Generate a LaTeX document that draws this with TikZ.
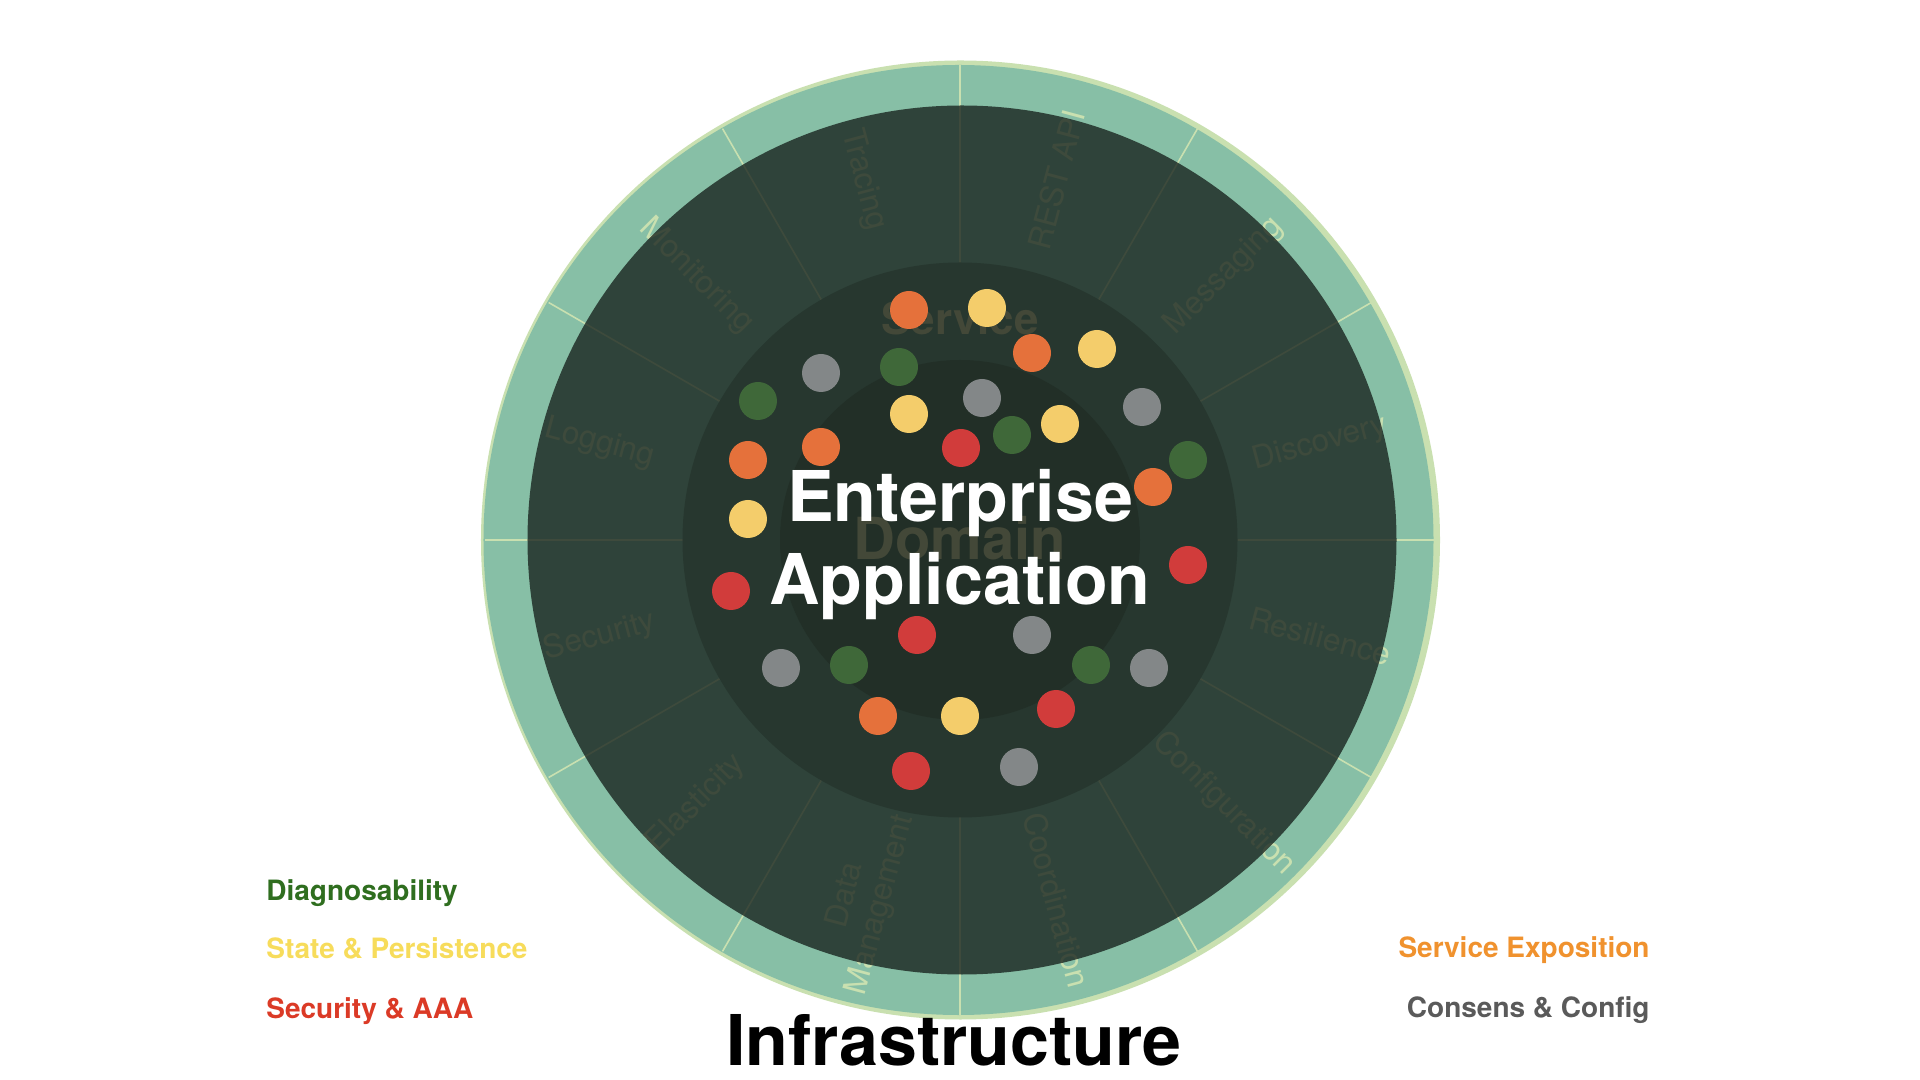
\documentclass[tikz,border=0pt]{standalone}
\usepackage{fontspec}
\setmainfont{TeX Gyre Heros}

\definecolor{pale}{HTML}{C9E0B0}
\definecolor{band}{HTML}{87BFA6}
\definecolor{veil}{HTML}{17211C}
\definecolor{servicering}{HTML}{27372F}
\definecolor{domainring}{HTML}{222F27}
\definecolor{faint}{HTML}{434838}
\definecolor{dotorange}{HTML}{E5713B}
\definecolor{dotyellow}{HTML}{F4CD6B}
\definecolor{dotgreen}{HTML}{3F6839}
\definecolor{dotgray}{HTML}{838788}
\definecolor{dotred}{HTML}{D13C3B}
\definecolor{diagcol}{HTML}{2F6E1F}
\definecolor{statecol}{HTML}{F7DC5B}
\definecolor{seccol}{HTML}{DB3A26}
\definecolor{expocol}{HTML}{F0922E}
\definecolor{conscol}{HTML}{5A5A5A}

\begin{document}
\begin{tikzpicture}[x=0.5pt, y=0.5pt,
    sector/.style={text=pale, font=\fontsize{15.8}{18}\selectfont, align=center, inner sep=0},
    dot/.style={circle, minimum size=19pt, inner sep=0},
    legend/.style={font=\bfseries\fontsize{14}{16}\selectfont, inner sep=0},
    title/.style={font=\bfseries\fontsize{35}{40}\selectfont, inner sep=0}]
  \path[use as bounding box, fill=white] (-960,-540) rectangle (960,540);

  % rings
  \fill[pale] (0.5,0) circle (479.5);
  \fill[band] (-1.5,0) circle (475);
  \foreach \a in {0,30,...,330}
    \draw[pale, line width=0.8pt] (0,0) -- (\a:475);
  \foreach \a/\r/\lbl in {15/15/Discovery, 45/45/Messaging, 75/75/REST API,
      105/-75/Tracing, 135/-45/Monitoring, 165/-15/Logging,
      195/15/Security, 225/45/Elasticity, 255/75/{Data\\Management},
      285/-75/Coordination, 315/-45/Configuration, 345/-15/Resilience}
    \node[sector, rotate=\r] (sec\a) at (\a:373) {\lbl};
  \fill[veil, opacity=0.78] (2,0) circle (434.5);
  \fill[servicering] (0,0) circle (277.5);
  \fill[domainring] (0,0) circle (180);

  \node[font=\bfseries\fontsize{22}{26}\selectfont, text=faint, anchor=base] (service) at (0,205) {Service};
  \node[font=\bfseries\fontsize{29}{33}\selectfont, text=faint, anchor=base] (domain) at (0,-20) {Domain};

  % concerns
  \foreach \x/\y/\c [count=\i] in {
      -51/230/dotorange, 27/232/dotyellow, 72/187/dotorange, 137/191/dotyellow,
      -139/167/dotgray, -61/173/dotgreen, -202/139/dotgreen, 22/142/dotgray,
      182/133/dotgray, -51/126/dotyellow, 52/105/dotgreen, 100/116/dotyellow,
      -212/80/dotorange, -139/93/dotorange, 1/92/dotred, 228/80/dotgreen,
      193/53/dotorange, -212/21/dotyellow, 228/-25/dotred, -229/-51/dotred,
      -43/-95/dotred, 72/-95/dotgray, -179/-128/dotgray, -111/-125/dotgreen,
      131/-125/dotgreen, 189/-128/dotgray, -82/-176/dotorange, 0/-176/dotyellow,
      96/-169/dotred, -49/-231/dotred, 59/-227/dotgray}
    \node[dot, fill=\c] (d\i) at (\x,\y) {};

  \node[title, text=white, anchor=base] (ent) at (0,18) {Enterprise};
  \node[title, text=white, anchor=base] (appl) at (0,-65) {Application};
  \node[title, anchor=base] (infra) at (-6,-525) {Infrastructure};

  % legend
  \node[legend, text=diagcol, anchor=base west] (diag) at (-694,-360) {Diagnosability};
  \node[legend, text=statecol, anchor=base west] (state) at (-694,-418) {State \& Persistence};
  \node[legend, text=seccol, anchor=base west] (sec) at (-694,-478) {Security \& AAA};
  \node[legend, text=expocol, anchor=base east] (expo) at (690,-417) {Service Exposition};
  \node[legend, text=conscol, anchor=base east] (cons) at (690,-477) {Consens \& Config};
\end{tikzpicture}
\end{document}
